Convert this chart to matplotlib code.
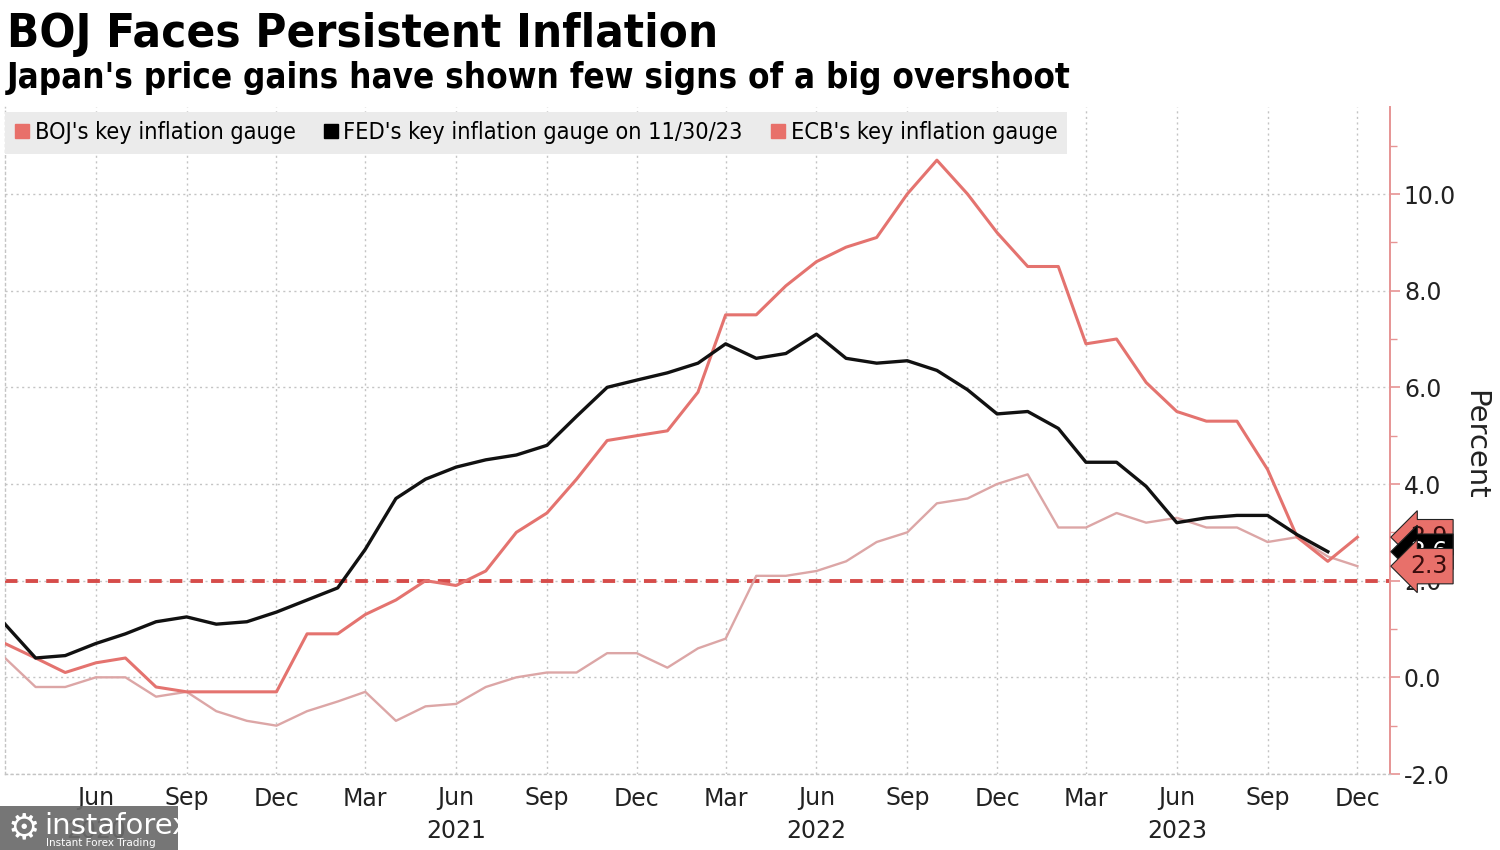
import numpy as np
import pandas as pd
import matplotlib
matplotlib.use("Agg")
import matplotlib.pyplot as plt
from matplotlib import font_manager as fm
from matplotlib.lines import Line2D
from matplotlib.patches import Rectangle
import matplotlib.transforms as mtransforms

# monthly readings, Mar 2020 .. Dec 2023 (percent, y/y)
dates = pd.date_range("2020-03-01", "2023-12-01", freq="MS")

boj = [0.4, -0.2, -0.2, 0.0, 0.0, -0.4, -0.3, -0.7, -0.9, -1.0,
       -0.7, -0.5, -0.3, -0.9, -0.6, -0.55, -0.2, 0.0, 0.1, 0.1, 0.5, 0.5,
       0.2, 0.6, 0.8, 2.1, 2.1, 2.2, 2.4, 2.8, 3.0, 3.6, 3.7, 4.0,
       4.2, 3.1, 3.1, 3.4, 3.2, 3.3, 3.1, 3.1, 2.8, 2.9, 2.5, 2.3]

fed = [1.1, 0.4, 0.45, 0.7, 0.9, 1.15, 1.25, 1.1, 1.15, 1.35,
       1.6, 1.85, 2.65, 3.7, 4.1, 4.35, 4.5, 4.6, 4.8, 5.4, 6.0, 6.15,
       6.3, 6.5, 6.9, 6.6, 6.7, 7.1, 6.6, 6.5, 6.55, 6.35, 5.95, 5.45,
       5.5, 5.15, 4.45, 4.45, 3.95, 3.2, 3.3, 3.35, 3.35, 2.95, 2.6]

ecb = [0.7, 0.4, 0.1, 0.3, 0.4, -0.2, -0.3, -0.3, -0.3, -0.3,
       0.9, 0.9, 1.3, 1.6, 2.0, 1.9, 2.2, 3.0, 3.4, 4.1, 4.9, 5.0,
       5.1, 5.9, 7.5, 7.5, 8.1, 8.6, 8.9, 9.1, 10.0, 10.7, 10.0, 9.2,
       8.5, 8.5, 6.9, 7.0, 6.1, 5.5, 5.3, 5.3, 4.3, 2.9, 2.4, 2.9]

target = 2.0
labels = ["BOJ's key inflation gauge", "FED's key inflation gauge on 11/30/23",
          "ECB's key inflation gauge"]

c_boj = "#dca6a6"
c_ecb = "#e4736f"
c_fed = "#111111"
c_key = "#e8706a"
c_axis = "#e69494"


def dejavu(bold, size):
    # prefer the condensed cut if it is installed
    for f in fm.fontManager.ttflist:
        if "DejaVu" in f.name and "Mono" not in f.name and "Serif" not in f.name \
                and f.style == "normal" and ("Condensed" in f.fname or f.stretch == "condensed"):
            isbold = f.weight in ("bold", 700)
            if isbold == bold:
                return fm.FontProperties(fname=f.fname, size=size), True
    return fm.FontProperties(family="DejaVu Sans", weight="bold" if bold else "normal",
                             size=size * 0.9), False


fig = plt.figure(figsize=(15, 8.5), dpi=100)
ax = fig.add_axes([5 / 1500, 76 / 850, 1385 / 1500, 667 / 850])

ax.plot(dates, boj, color=c_boj, lw=1.7, zorder=3)
ax.plot(dates, ecb, color=c_ecb, lw=2.2, zorder=4)
ax.plot(dates[:len(fed)], fed, color=c_fed, lw=2.4, zorder=5)
ax.axhline(target, color="#d64c4a", lw=2.8, dashes=(3.2, 2.1), zorder=2)

ax.set_xlim(pd.Timestamp("2020-03-01"), pd.Timestamp("2024-01-03"))
ax.set_ylim(-2.0, 11.8)

# x ticks every quarter
xt = pd.date_range("2020-06-01", "2023-12-01", freq="3MS")
xl = [d.strftime("%b") + ("\n" + str(d.year) if d.month == 6 else "") for d in xt]
ax.set_xticks(xt)
ax.set_xticklabels(xl)
ax.tick_params(axis="x", length=0, pad=9, labelsize=17, labelcolor="#222222")
for t in ax.get_xticklabels():
    t.set_linespacing(1.45)
    t.set_va("top")

ax.yaxis.tick_right()
ax.set_yticks(np.arange(-2, 11, 2))
ax.set_yticks(np.arange(-1, 12, 2), minor=True)
ax.yaxis.set_major_formatter(matplotlib.ticker.FormatStrFormatter("%.1f"))
ax.tick_params(axis="y", which="major", length=7, width=1.2, color=c_axis,
               pad=3, labelsize=17, labelcolor="#222222")
ax.tick_params(axis="y", which="minor", length=5, width=1.0, color=c_axis)

ax.grid(True, which="major", color="#c4c4c4", ls=(0, (1.5, 2.5)), lw=1.0)
ax.spines["top"].set_visible(False)
ax.spines["right"].set_color(c_axis)
ax.spines["right"].set_linewidth(1.4)
for s in ["left", "bottom"]:
    ax.spines[s].set_color("#c4c4c4")
    ax.spines[s].set_linestyle((0, (1.5, 2.5)))
    ax.spines[s].set_linewidth(1.0)

ax.text(1.0615, 0.493, "Percent", transform=ax.transAxes, rotation=270,
        ha="center", va="center", fontsize=21, color="#222222")

# last-value tags on the right axis
trans = mtransforms.blended_transform_factory(ax.transAxes, ax.transData)
for val, fc, tc, z in [(ecb[-1], c_key, "#3a0d0d", 10), (fed[-1], "#000000", "white", 11),
                       (boj[-1], c_key, "#3a0d0d", 12)]:
    ax.text(1.0145, val, f"{val:.1f}", transform=trans, ha="left", va="center",
            fontsize=17, color=tc, zorder=z, clip_on=False,
            bbox=dict(boxstyle="larrow,pad=0.24", fc=fc, ec="#222222", lw=0.8))

# legend
lfont, cond = dejavu(False, 16.8)
handles = [Line2D([], [], marker="s", ls="none", color=c, markersize=10)
           for c in [c_key, "#000000", c_key]]
leg = ax.legend(handles, labels, loc="upper left", bbox_to_anchor=(0.0, 0.993),
                ncol=3, prop=lfont, frameon=True, fancybox=False,
                facecolor="#ebebeb", edgecolor="none", framealpha=1,
                handlelength=0.6, handletextpad=0.25, columnspacing=1.2,
                borderpad=0.42, borderaxespad=0.0)
leg.set_zorder(20)

# titles
tfont, _ = dejavu(True, 34)
sfont, _ = dejavu(True, 25)
fig.text(7 / 1500, 1 - 47 / 850, "BOJ Faces Persistent Inflation", fontproperties=tfont,
         va="baseline", ha="left", color="black")
fig.text(7 / 1500, 1 - 88 / 850, "Japan's price gains have shown few signs of a big overshoot",
         fontproperties=sfont, va="baseline", ha="left", color="black")

# watermark
fig.patches.append(Rectangle((0, 0), 178 / 1500, 44 / 850, transform=fig.transFigure,
                             fc="#6a6a6a", ec="none", alpha=0.92, zorder=30))
fig.text(8 / 1500, 22 / 850, "\u2699", fontsize=26, color="white", va="center",
         ha="left", zorder=31)
fig.text(44 / 1500, 24 / 850, "instaforex", fontsize=21, color="white", va="center",
         ha="left", zorder=31)
fig.text(46 / 1500, 7 / 850, "Instant Forex Trading", fontsize=7.5, color="white",
         va="center", ha="left", zorder=31)

fig.savefig("out.png", dpi=100, facecolor="white")
